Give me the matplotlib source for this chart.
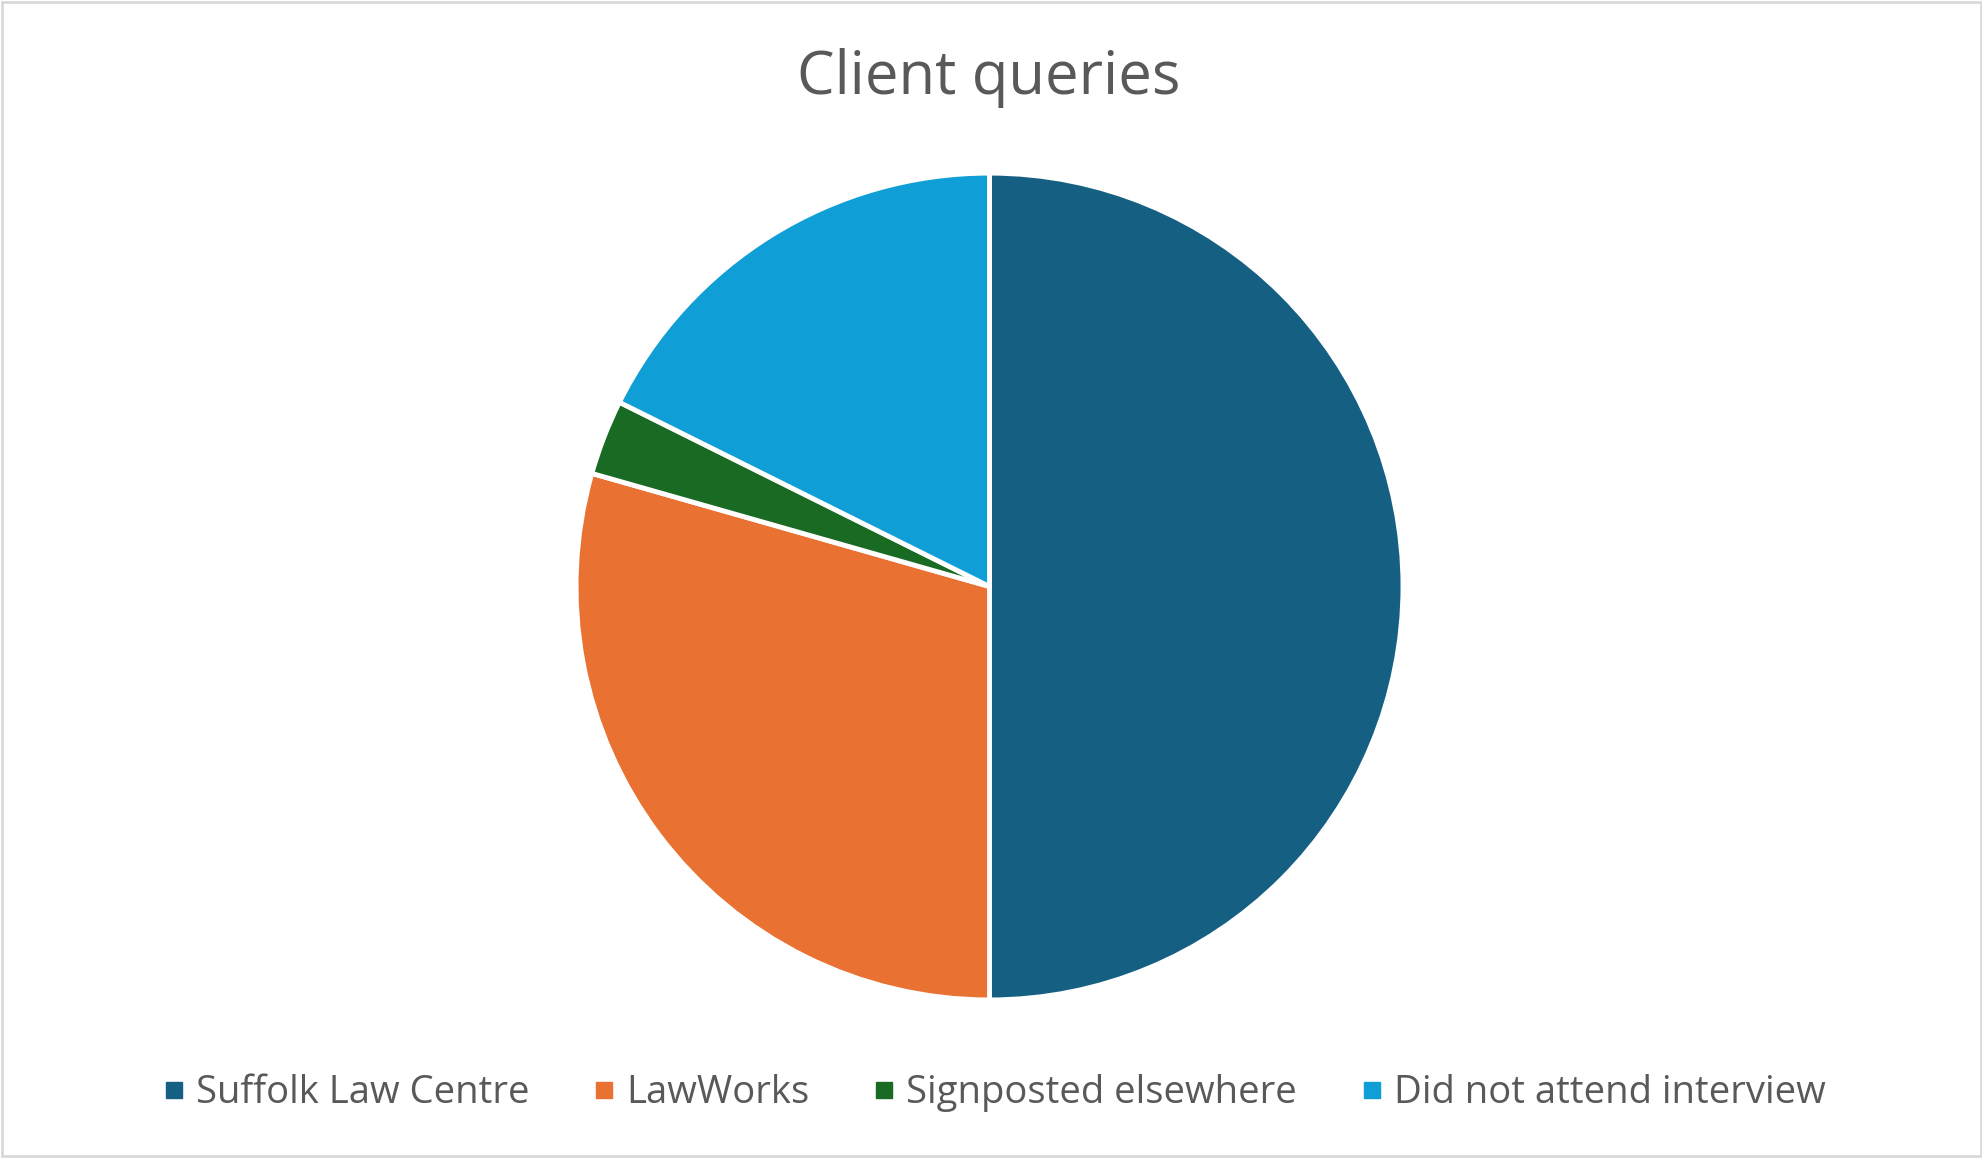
import matplotlib.pyplot as plt
from matplotlib.patches import Rectangle
from matplotlib.lines import Line2D

categories = ['Suffolk Law Centre', 'LawWorks', 'Signposted elsewhere', 'Did not attend interview']
counts = [17, 10, 1, 6]
colors = ['#156082', '#E97132', '#196B24', '#0F9ED5']

plt.rcParams['font.family'] = ['Open Sans', 'DejaVu Sans']
text_color = '#595959'

fig = plt.figure(figsize=(19.83, 11.58), dpi=100)
fig.patch.set_facecolor('white')
fig.add_artist(Rectangle((0.001, 0.002), 0.998, 0.996, transform=fig.transFigure,
                         fill=False, edgecolor='#D9D9D9', linewidth=2))

ax = fig.add_axes([0.2905, 0.1365, 0.417, 0.714])
ax.pie(counts, colors=colors, startangle=90, counterclock=False, radius=1,
       wedgeprops=dict(edgecolor='white', linewidth=3.5))
ax.set_xlim(-1, 1)
ax.set_ylim(-1, 1)
ax.set_aspect('auto')
ax.axis('off')

fig.text(0.4985, 1 - 78 / 1158, 'Client queries', ha='center', va='center',
         fontsize=43, color=text_color)

handles = [Line2D([], [], marker='s', linestyle='none', markersize=11,
                  markerfacecolor=c, markeredgecolor=c) for c in colors]
fig.legend(handles, categories, loc='center', bbox_to_anchor=(0.5015, 1 - 1093 / 1158),
           ncol=4, frameon=False, fontsize=27.5, labelcolor=text_color,
           handlelength=0.55, handletextpad=0.3, columnspacing=1.68)

fig.savefig('out.png', dpi=100)
